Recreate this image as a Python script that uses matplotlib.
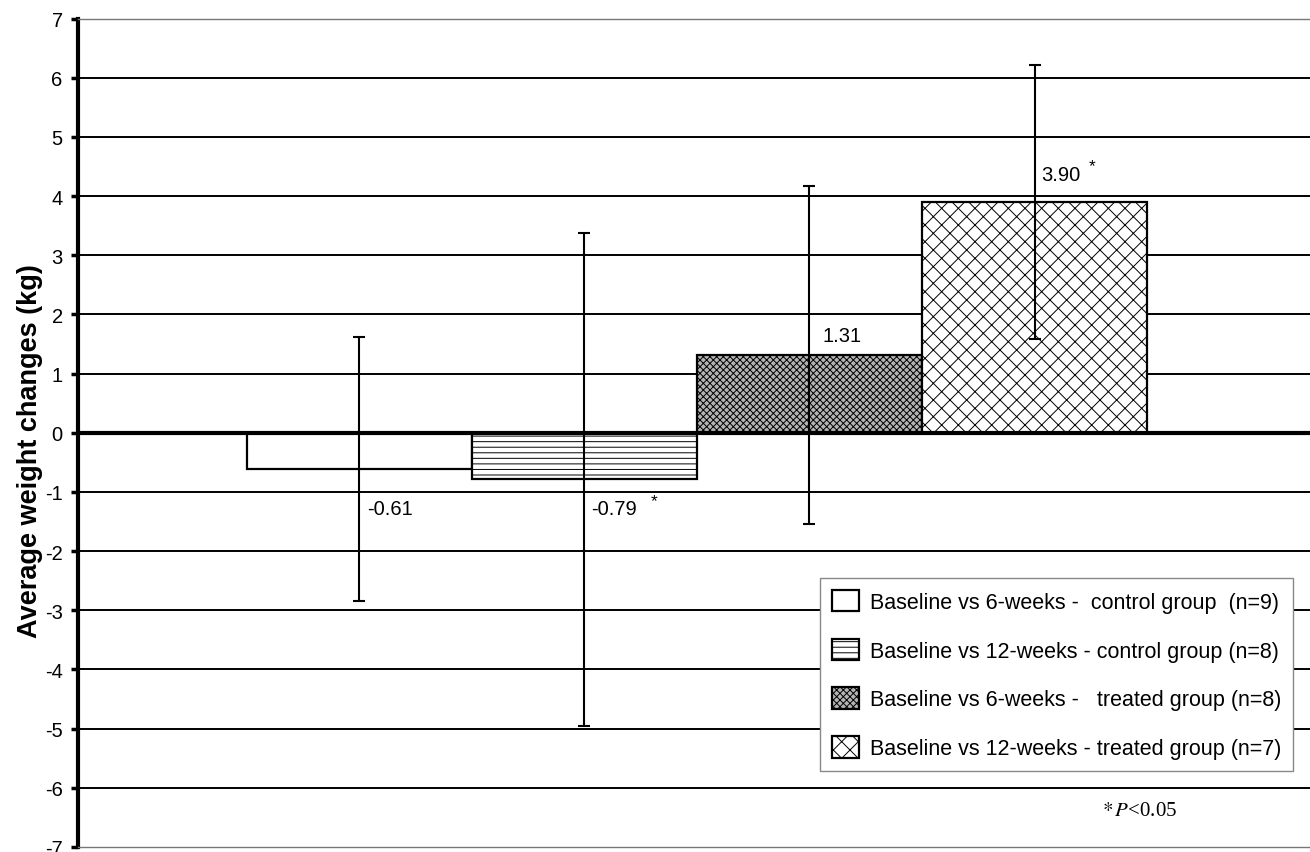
import matplotlib
matplotlib.use('Agg')
import matplotlib.pyplot as plt
from matplotlib.patches import Patch
import numpy as np

plt.rcParams['font.family'] = ['Liberation Sans', 'DejaVu Sans']
plt.rcParams['hatch.linewidth'] = 0.7
plt.rcParams['axes.unicode_minus'] = False

# data
groups = ['Baseline vs 6-weeks -  control group  (n=9)',
          'Baseline vs 12-weeks - control group (n=8)',
          'Baseline vs 6-weeks -   treated group (n=8)',
          'Baseline vs 12-weeks - treated group (n=7)']
changes = [-0.61, -0.79, 1.31, 3.90]
sd = [2.23, 4.17, 2.86, 2.31]
value_labels = ['-0.61', '-0.79', '1.31', '3.90']
significant = [False, True, False, True]
hatches = ['', '---', 'xxxxx', 'xx']
face = ['white', 'white', '#b4b4b4', 'white']

fig = plt.figure(figsize=(13.1, 8.53), dpi=100)
ax = fig.add_axes([0.0595, 0.006, 0.9405, 0.971])

x = np.arange(len(changes))

# grid lines
for y in range(-6, 7):
    if y == 0:
        continue
    ax.axhline(y, color='black', lw=1.4, zorder=1)

ax.bar(x, changes, width=1.0, color=face, edgecolor='black', linewidth=1.6,
       hatch=hatches, zorder=2)
ax.axhline(0, color='black', lw=3, zorder=3)
ax.errorbar(x, changes, yerr=sd, fmt='none', ecolor='black', elinewidth=1.5,
            capsize=4.5, capthick=1.5, zorder=4)

# value labels
label_pos = [(0.036, -1.28), (1.032, -1.28), (2.06, 1.64), (3.03, 4.37)]
for (lx, ly), txt, star in zip(label_pos, value_labels, significant):
    ax.text(lx, ly, txt, ha='left', va='center', fontsize=14.5, zorder=5)
    if star:
        ax.annotate('*', xy=(lx, ly), xytext=(len(txt) * 8.1 + 2, 6),
                    textcoords='offset points', ha='left', va='center',
                    fontsize=12.5)

ax.set_xlim(-1.25, 4.224)
ax.set_ylim(-7, 7)
ax.set_yticks(range(-7, 8))
ax.tick_params(axis='y', labelsize=14.5, length=5, width=2.5, direction='out',
               pad=6)
ax.set_xticks([])
ax.set_ylabel('Average weight changes (kg)', fontsize=19.5, fontweight='bold')
ax.yaxis.set_label_coords(-0.0284, 0.479)

ax.spines['left'].set_linewidth(3)
ax.spines['right'].set_visible(False)
for s in ['top', 'bottom']:
    ax.spines[s].set_linestyle((0, (1, 1)))
    ax.spines[s].set_color('#777777')
    ax.spines[s].set_linewidth(1)

handles = [Patch(facecolor=f, edgecolor='black', hatch=h, linewidth=1.6)
           for f, h in zip(face, hatches)]
leg = ax.legend(handles, groups, loc='lower right',
                bbox_to_anchor=(1293 / 1310, (853 - 772) / 853),
                bbox_transform=fig.transFigure, borderaxespad=0,
                fontsize=15.5, handlelength=1.25, handleheight=1.15,
                handletextpad=0.5, labelspacing=1.2, borderpad=0.55,
                fancybox=False, framealpha=1, edgecolor='#888888')
leg.get_frame().set_linewidth(1)
leg.set_zorder(6)

ax.text(3.3, -6.39, r'$*\,P$<0.05', fontsize=15, family='Liberation Serif',
        math_fontfamily='stix', ha='left', va='center')

fig.savefig('out.png', dpi=100)
